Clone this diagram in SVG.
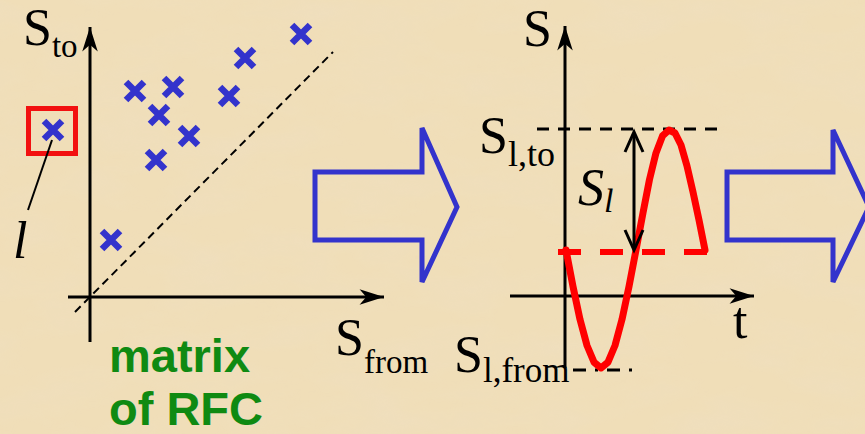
<svg xmlns="http://www.w3.org/2000/svg" width="865" height="434" viewBox="0 0 865 434">
<defs>
<style>
.ax{stroke:#000;stroke-width:3;fill:none}
.cr{stroke:#3333cc;stroke-width:6.5;fill:none}
.big{fill:none;stroke:#3333cc;stroke-width:5;stroke-linejoin:miter}
.sr{font-family:"Liberation Serif","Times New Roman",serif;fill:#000}
.gr{font-family:"Liberation Sans",Arial,sans-serif;font-weight:bold;fill:#0f8a12}
</style>
<marker id="ah" markerUnits="userSpaceOnUse" markerWidth="30" markerHeight="20" viewBox="-24 -9 26 18" refX="0" refY="0" orient="auto">
<path d="M0,0 L-22,-7 L-16,0 L-22,7 Z" fill="#000"/>
</marker>
<filter id="paper" x="0" y="0" width="100%" height="100%">
<feTurbulence type="fractalNoise" baseFrequency="0.012 0.03" numOctaves="4" seed="7"/>
<feColorMatrix type="matrix" values="0 0 0 0 0.86  0 0 0 0 0.74  0 0 0 0 0.55  0 0 0 -1.6 1.0"/>
</filter>
<path id="x" d="M-9,-9 L9,9 M9,-9 L-9,9"/>
</defs>
<rect width="865" height="434" fill="#f0deb8"/>
<rect width="865" height="434" filter="url(#paper)" opacity="0.5"/>

<g id="left-plot">
<line class="ax" x1="90" y1="342" x2="90" y2="27" marker-end="url(#ah)"/>
<line class="ax" x1="68" y1="297" x2="384" y2="297" marker-end="url(#ah)"/>
<line x1="75" y1="312" x2="333" y2="52" stroke="#000" stroke-width="2" stroke-dasharray="8 5"/>
<g class="cr">
<use href="#x" x="135" y="91"/>
<use href="#x" x="173" y="87"/>
<use href="#x" x="159" y="115"/>
<use href="#x" x="189" y="136"/>
<use href="#x" x="156" y="160"/>
<use href="#x" x="229" y="96"/>
<use href="#x" x="245" y="58"/>
<use href="#x" x="301" y="34"/>
<use href="#x" x="111" y="240"/>
<use href="#x" x="53" y="130"/>
</g>
<rect x="28.5" y="108.5" width="47" height="45" fill="none" stroke="#f21010" stroke-width="5"/>
<line x1="52" y1="140" x2="28" y2="210" stroke="#000" stroke-width="2"/>
<text class="sr" x="13" y="258" font-size="52" font-style="italic">l</text>
<text class="sr" x="23" y="45" font-size="52">S<tspan font-size="33" dy="12">to</tspan></text>
<text class="sr" x="335" y="355" font-size="52">S<tspan font-size="33" dy="18">from</tspan></text>
<text class="gr" x="109" y="372" font-size="47">matrix</text>
<text class="gr" x="109" y="425" font-size="47">of RFC</text>
</g>

<g id="arrow1">
<path class="big" d="M315,172 H422 V128 L457,207 L422,282 V240 H315 Z"/>
</g>

<g id="middle-plot">
<line class="ax" x1="565" y1="368" x2="565" y2="26" stroke-width="2.5" marker-end="url(#ah)"/>
<line class="ax" x1="510" y1="296" x2="754" y2="296" stroke-width="2.5" marker-end="url(#ah)"/>
<line x1="537" y1="129" x2="722" y2="129" stroke="#000" stroke-width="3" stroke-dasharray="12 9"/>
<line x1="573" y1="370" x2="636" y2="370" stroke="#000" stroke-width="3" stroke-dasharray="13 9 3 9"/>
<line x1="558" y1="252" x2="707" y2="252" stroke="#ff0000" stroke-width="6" stroke-dasharray="23 19"/>
<polyline fill="none" stroke="#ff0000" stroke-width="7" stroke-linejoin="round" stroke-linecap="round" points="566,250 573,286.5 580,319.4 587,345.5 594,362.2 601,368 608,362.2 615,345.5 622,319.4 629,286.5 636,250 643,212.9 649.5,179.5 656,152.9 662.5,135.9 669,130 675,133 681,145 687,166 693,192 699,220 705,250"/>
<g stroke="#000" stroke-width="3" fill="none">
<line x1="634" y1="133" x2="634" y2="249"/>
<polyline points="625,152 634,132 643,152"/>
<polyline points="625,230 634,250 643,230"/>
</g>
<text class="sr" x="523" y="46" font-size="52">S</text>
<text class="sr" x="733" y="338" font-size="52">t</text>
<text class="sr" x="479" y="153" font-size="52">S<tspan font-size="36" dy="13">l,to</tspan></text>
<text class="sr" x="454" y="372" font-size="52">S<tspan font-size="35" dy="10">l,from</tspan></text>
<text class="sr" x="578" y="205" font-size="52" font-style="italic">S<tspan font-size="34" dy="7">l</tspan></text>
</g>

<g id="arrow2">
<path class="big" d="M727,172 H833 V130 L869,207 L833,282 V240 H727 Z"/>
</g>
</svg>
